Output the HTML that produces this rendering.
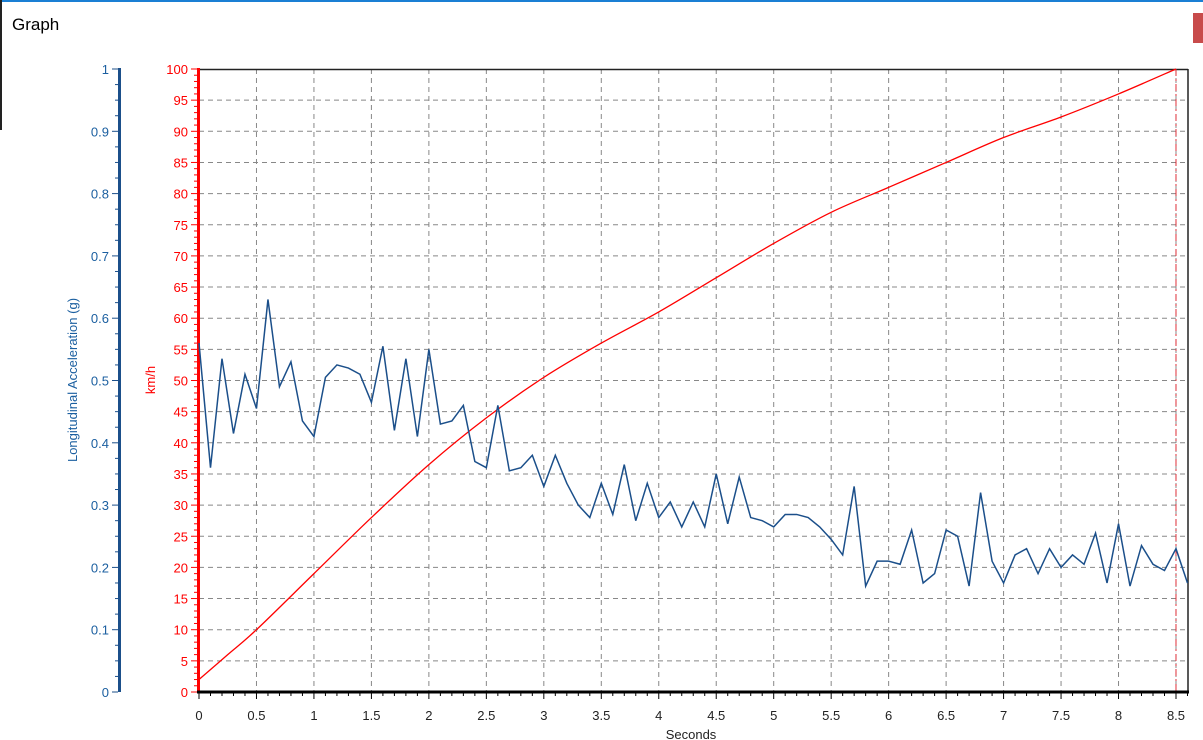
<!DOCTYPE html>
<html><head><meta charset="utf-8"><style>
html,body{margin:0;padding:0;background:#fff;width:1203px;height:740px;overflow:hidden}
svg{display:block;font-family:"Liberation Sans",sans-serif}
</style></head><body>
<svg id="s" width="1203" height="740" xmlns="http://www.w3.org/2000/svg"></svg>
<script>
const s=document.getElementById('s');let h='';
const X=t=>199+t*114.94, Y=v=>692-v*6.23;
h+='<rect x="0" y="0" width="1203" height="2" fill="#1a7fd4"/>';
h+='<rect x="0" y="0" width="2" height="130" fill="#222"/>';
h+='<rect x="1193" y="13" width="10" height="30" fill="#c84b4b"/>';
h+='<text x="12" y="30" font-size="17" fill="#000">Graph</text>';
for(let i=1;i<=17;i++){const x=X(i*0.5);h+=`<line x1="${x}" y1="69" x2="${x}" y2="692" stroke="#888" stroke-dasharray="5,4"/>`;}
for(let v=5;v<100;v+=5){const y=Y(v);h+=`<line x1="199" y1="${y}" x2="1188" y2="${y}" stroke="#888" stroke-dasharray="5,4"/>`;}
h+='<line x1="199" y1="69.5" x2="1188" y2="69.5" stroke="#222" stroke-width="1.5"/>';
h+='<line x1="1188" y1="69" x2="1188" y2="692" stroke="#222" stroke-width="1.5"/>';
h+=`<line x1="${X(8.5)}" y1="69" x2="${X(8.5)}" y2="692" stroke="#e0303a" stroke-dasharray="7,3,2,3"/>`;
h+='<line x1="198.5" y1="68" x2="198.5" y2="692" stroke="#ff0000" stroke-width="3"/>';
for(let v=0;v<=100;v++){const y=Y(v);const l=v%5==0?6:3;h+=`<line x1="${197-l}" y1="${y}" x2="197" y2="${y}" stroke="#ff0000"/>`;}
for(let v=0;v<=100;v+=5)h+=`<text x="188" y="${Y(v)+5}" font-size="13" fill="#ff0000" text-anchor="end">${v}</text>`;
h+='<line x1="119.5" y1="68" x2="119.5" y2="692" stroke="#1b4f8a" stroke-width="3"/>';
for(let i=0;i<=40;i++){const y=Y(i*2.5);const l=i%4==0?6:3;h+=`<line x1="${118-l}" y1="${y}" x2="118" y2="${y}" stroke="#1b4f8a"/>`;}
for(let i=0;i<=10;i++){const lab=i==10?'1':i==0?'0':'0.'+i;h+=`<text x="109" y="${Y(i*10)+5}" font-size="13" fill="#1b5fa0" text-anchor="end">${lab}</text>`;}
h+='<line x1="197" y1="692" x2="1189" y2="692" stroke="#000" stroke-width="3"/>';
for(let i=0;i<=86;i++){const x=X(i*0.1);const l=i%5==0?7:4;h+=`<line x1="${x}" y1="692" x2="${x}" y2="${692+l}" stroke="#000"/>`;}
for(let i=0;i<=17;i++){const t=i*0.5;h+=`<text x="${X(t)}" y="720" font-size="13" fill="#222" text-anchor="middle">${t}</text>`;}
h+='<text x="691" y="739" font-size="13" fill="#222" text-anchor="middle">Seconds</text>';
h+='<text transform="translate(77,380) rotate(-90)" font-size="13" fill="#1b5fa0" text-anchor="middle">Longitudinal Acceleration (g)</text>';
h+='<text transform="translate(155,380) rotate(-90)" font-size="13" fill="#ff0000" text-anchor="middle">km/h</text>';
const r=[[0,2],[0.25,6],[0.5,10],[1,19],[1.5,28],[2,36.5],[2.5,44],[3,50.5],[3.5,56],[4,61],[4.5,66.5],[5,72],[5.5,77],[6,81],[6.5,85],[7,89],[7.5,92.3],[8,96],[8.5,100]];
// Catmull-Rom smooth
let d=`M${X(r[0][0])},${Y(r[0][1])}`;
for(let i=0;i<r.length-1;i++){const p0=r[Math.max(i-1,0)],p1=r[i],p2=r[i+1],p3=r[Math.min(i+2,r.length-1)];
const c1=[X(p1[0])+(X(p2[0])-X(p0[0]))/6,Y(p1[1])+(Y(p2[1])-Y(p0[1]))/6];
const c2=[X(p2[0])-(X(p3[0])-X(p1[0]))/6,Y(p2[1])-(Y(p3[1])-Y(p1[1]))/6];
d+=` C${c1[0]},${c1[1]} ${c2[0]},${c2[1]} ${X(p2[0])},${Y(p2[1])}`;}
h+=`<path fill="none" stroke="#ff0000" stroke-width="1.3" d="${d}"/>`;
const b=[56,36,53.5,41.5,51,45.5,63,49,53,43.5,41,50.5,52.5,52,51,46.5,55.5,42,53.5,41,55,43,43.5,46,37,36,46,35.5,36,38,33,38,33.5,30,28,33.5,28.5,36.5,27.5,33.5,28,30.5,26.5,30.5,26.5,35,27,34.5,28,27.5,26.5,28.5,28.5,28,26.5,24.5,22,33,17,21,21,20.5,26,17.5,19,26,25,17,32,21,17.5,22,23,19,23,20,22,20.5,25.5,17.5,27,17,23.5,20.5,19.5,23,17.5];
h+=`<polyline fill="none" stroke="#1b4f8a" stroke-width="1.5" points="${b.map((v,i)=>Math.min(X(i*0.1),1188)+','+Y(v)).join(' ')}"/>`;
s.innerHTML=h;
</script>
</body></html>
